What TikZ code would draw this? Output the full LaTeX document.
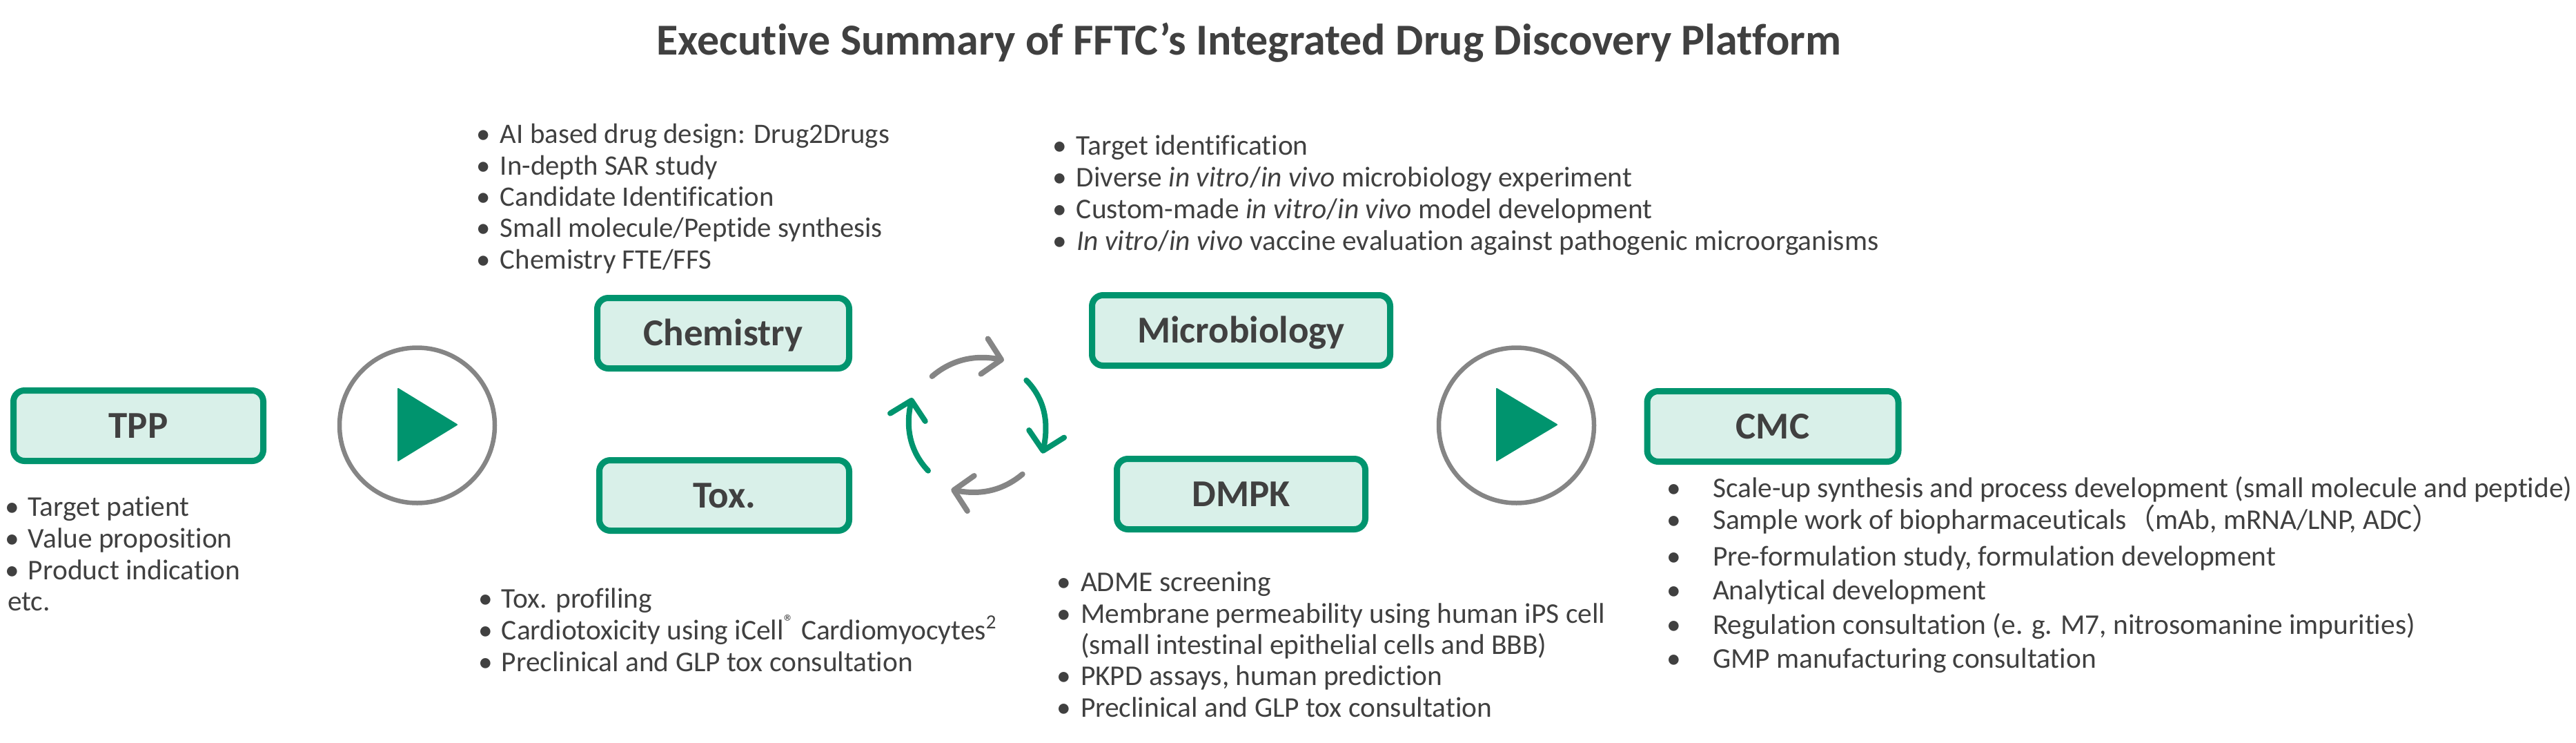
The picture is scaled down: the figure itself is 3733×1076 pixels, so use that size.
\documentclass[tikz,border=0pt]{standalone}
\usepackage{fontspec}
\setmainfont[Ligatures=NoCommon]{Carlito}
\newfontfamily\cjkparen{Noto Sans CJK JP}
\usetikzlibrary{arrows.meta}
\definecolor{brandgreen}{HTML}{00946E}
\definecolor{palegreen}{HTML}{D9F0E9}
\definecolor{ringgray}{HTML}{858585}
\definecolor{inkgray}{HTML}{404040}
\newcommand{\bodysize}{\fontsize{20.7}{24}\selectfont}
% One bullet line: name, x of bullet cell, baseline y, bullet-to-text gap, text
\newcommand{\bulletline}[5]{\node[listline] (#1) at (#2,#3) {\makebox[#4pt][l]{•}#5};}
\tikzset{
  x=0.5pt, y=-0.5pt,
  stagebox/.style={draw=brandgreen, fill=palegreen, line width=4.5pt, rounded corners=8pt,
    inner sep=0pt, text=inkgray, font=\fontsize{27.5}{32}\selectfont\bfseries,
    text height=17.5pt, text depth=0pt, align=center},
  listline/.style={anchor=base west, inner sep=0pt, outer sep=0pt, text=inkgray, font=\bodysize},
  ring/.style={circle, draw=ringgray, line width=3.25pt, fill=white, minimum size=112.5pt, inner sep=0pt},
  playmark/.style={fill=brandgreen, draw=brandgreen, line width=1pt, line join=round},
  cycleback/.style={line width=4pt, line cap=round, ringgray,
    -{Straight Barb[round, length=12.5pt, width=26pt]}},
  cyclefwd/.style={line width=4pt, line cap=round, brandgreen,
    -{Straight Barb[round, length=12.5pt, width=26pt]}},
}
\begin{document}
\begin{tikzpicture}
\useasboundingbox (0,0) rectangle (3733,1076);

\node[anchor=base, inner sep=0pt, text=inkgray, font=\fontsize{32}{38}\selectfont\bfseries] (title) at (1810,79)
  {Executive Summary of FFTC’s Integrated Drug Discovery Platform};

% Stage boxes
\node[stagebox, minimum width=181pt, minimum height=51pt] (tpp) at (200.5,616.5) {TPP};
\node[stagebox, minimum width=182.5pt, minimum height=51pt] (chem) at (1048,482.5) {Chemistry};
\node[stagebox, minimum width=216pt, minimum height=51pt] (micro) at (1798.5,478.5) {Microbiology};
\node[stagebox, minimum width=181pt, minimum height=51pt] (tox) at (1049.5,717.5) {Tox.};
\node[stagebox, minimum width=180pt, minimum height=51pt] (dmpk) at (1798.5,715.5) {DMPK};
\node[stagebox, minimum width=182pt, minimum height=51pt] (cmc) at (2569,617.5) {CMC};

% Play buttons
\node[ring] (playa) at (604.5,616) {};
\fill[playmark] (577,563) -- (662,615) -- (577,667) -- cycle;
\node[ring] (playb) at (2197.5,616) {};
\fill[playmark] (2169,563) -- (2256,615) -- (2169,667) -- cycle;

% Cycle between the four central stages
\coordinate (ga) at (1350.7,545);
\coordinate (gb) at (1455,521.7);
\coordinate (ra) at (1487.3,550.7);
\coordinate (rb) at (1510.7,656.7);
\coordinate (ha) at (1481.7,686.7);
\coordinate (hb) at (1378.3,709);
\coordinate (la) at (1345,681.7);
\coordinate (lb) at (1321.7,576);
\draw[cycleback] (ga) .. controls (1381,519) and (1416,514) .. (gb);
\draw[cyclefwd] (ra) .. controls (1517,581) and (1519,617) .. (rb);
\draw[cycleback] (ha) .. controls (1451,712.4) and (1417.6,716.6) .. (hb);
\draw[cyclefwd] (la) .. controls (1316,651) and (1313,615) .. (lb);

% TPP list
\bulletline{tppa}{7}{747}{17}{Target patient}
\bulletline{tppb}{7}{793}{17}{Value proposition}
\bulletline{tppc}{7}{839}{17}{Product indication}
\node[listline] (tppd) at (11,884) {etc.};

% Chemistry list
\begin{scope}[listline/.append style={font=\fontsize{20.4}{24}\selectfont}]
\bulletline{chema}{690}{207}{17.5}{AI based drug design: Drug2Drugs}
\bulletline{chemb}{690}{253}{17.5}{In-depth SAR study}
\bulletline{chemc}{690}{298}{17.5}{Candidate Identification}
\bulletline{chemd}{690}{343}{17.5}{Small molecule/Peptide synthesis}
\bulletline{cheme}{690}{389}{17.5}{Chemistry FTE/FFS}
\end{scope}

% Microbiology list
\bulletline{microa}{1525}{224}{17.5}{Target identification}
\bulletline{microb}{1525}{270}{17.5}{Diverse \textit{in vitro}/\textit{in vivo} microbiology experiment}
\bulletline{microc}{1525}{316}{17.5}{Custom-made \textit{in vitro}/\textit{in vivo} model development}
\bulletline{microd}{1525}{362}{17.5}{\textit{In vitro}/\textit{in vivo} vaccine evaluation against pathogenic microorganisms}

% Tox list
\bulletline{toxa}{693}{880}{17}{Tox. profiling}
\bulletline{toxb}{693}{926}{17}{Cardiotoxicity using iCell\textsuperscript{®} Cardiomyocytes\textsuperscript{2}}
\bulletline{toxc}{693}{972}{17}{Preclinical and GLP tox consultation}

% DMPK list
\bulletline{dmpka}{1531}{856}{17.5}{ADME screening}
\bulletline{dmpkb}{1531}{902}{17.5}{Membrane permeability using human iPS cell}
\node[listline] (dmpkc) at (1566,947) {(small intestinal epithelial cells and BBB)};
\bulletline{dmpkd}{1531}{992}{17.5}{PKPD assays, human prediction}
\bulletline{dmpke}{1531}{1038}{17.5}{Preclinical and GLP tox consultation}

% CMC list
\bulletline{cmca}{2415}{720}{33.5}{Scale-up synthesis and process development (small molecule and peptide)}
\bulletline{cmcb}{2415}{766}{33.5}{Sample work of biopharmaceuticals{\cjkparen （}mAb, mRNA/LNP, ADC{\cjkparen ）}}
\bulletline{cmcc}{2415}{819}{33.5}{Pre-formulation study, formulation development}
\bulletline{cmcd}{2415}{868}{33.5}{Analytical development}
\bulletline{cmce}{2415}{918}{33.5}{Regulation consultation (e. g. M7, nitrosomanine impurities)}
\bulletline{cmcf}{2415}{967}{33.5}{GMP manufacturing consultation}
\end{tikzpicture}
\end{document}
